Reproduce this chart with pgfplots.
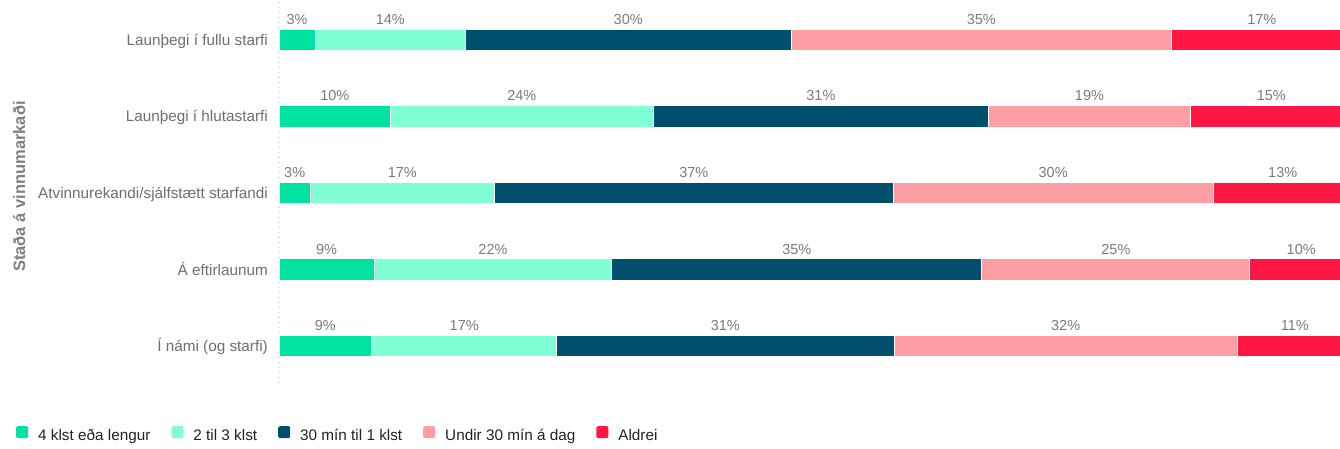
\documentclass[border=0pt]{standalone}
\usepackage{pgfplots}
\pgfplotsset{compat=1.18}
\usepackage{pgfplotstable}
\usepackage{fontspec}
\setmainfont{Liberation Sans}
\definecolor{cA}{HTML}{00E29F}
\definecolor{cB}{HTML}{80FFD4}
\definecolor{cC}{HTML}{004F6C}
\definecolor{cD}{HTML}{FF9EA5}
\definecolor{cE}{HTML}{FF1744}
\definecolor{tickgray}{HTML}{6E6E6E}
\definecolor{valgray}{HTML}{7A7A7A}
\definecolor{titlegray}{HTML}{7F7F7F}
\definecolor{legtext}{HTML}{222222}

\pgfplotstableread{
y a b c d e
0 3.38 13.97 30.37 35.40 16.88
1 10.40 24.45 31.26 18.78 15.11
2 2.92 17.14 37.17 29.78 12.99
3 8.88 22.11 34.49 24.97 9.55
4 8.64 17.23 31.42 31.98 10.73
}\datatable

\pgfplotstableread{
x y lab
1.69 0 3
10.365 0 14
32.535 0 30
65.42 0 35
91.56 0 17
5.20 1 10
22.625 1 24
50.48 1 31
75.50 1 19
92.445 1 15
1.46 2 3
11.49 2 17
38.645 2 37
72.12 2 30
93.505 2 13
4.44 3 9
19.935 3 22
48.235 3 35
77.965 3 25
95.225 3 10
4.32 4 9
17.255 4 17
41.58 4 31
73.28 4 32
94.635 4 11
}\labeltable

\begin{document}
\begin{tikzpicture}
\useasboundingbox (0,0) rectangle (1340pt,-448pt);
\begin{axis}[
  at={(279pt,-1.5pt)}, anchor=north west,
  scale only axis, width=1061pt, height=383pt,
  xbar stacked, bar width=21.5pt,
  xmin=0, xmax=98.84, ymin=-0.5, ymax=4.5, y dir=reverse,
  axis x line=none,
  axis y line*=left,
  y axis line style={draw=black!15, line width=1.5pt, dash pattern=on 1.5pt off 3.5pt},
  ytick={0,1,2,3,4},
  yticklabels={Launþegi í fullu starfi, Launþegi í hlutastarfi, Atvinnurekandi/sjálfstætt starfandi, Á eftirlaunum, Í námi (og starfi)},
  major tick length=0pt,
  yticklabel style={font=\fontsize{15.3}{18}\selectfont, text=tickgray, anchor=base east, inner sep=0pt, yshift=-5.5pt, xshift=-11pt},
  ylabel={Staða á vinnumarkaði},
  ylabel style={at={(axis description cs:-0.245,0.517)}, anchor=center, font=\bfseries\fontsize{16.5}{20}\selectfont, text=titlegray},
  legend columns=5,
  legend cell align=left,
  legend style={at={(axis description cs:-0.2479,-0.132)}, anchor=west, draw=none, fill=none, inner sep=0pt,
    font=\fontsize{15.3}{18}\selectfont, text=legtext,
    /tikz/every odd column/.append style={column sep=8pt},
    /tikz/every even column/.append style={column sep=19pt}},
  legend image code/.code={\fill[#1, draw=none, rounded corners=2pt] (0pt,-2.5pt) rectangle (12pt,9.5pt);},
  every axis plot/.append style={draw=white, line width=1pt},
]
\addplot[fill=cA] table[x=a,y=y]{\datatable};
\addplot[fill=cB] table[x=b,y=y]{\datatable};
\addplot[fill=cC] table[x=c,y=y]{\datatable};
\addplot[fill=cD] table[x=d,y=y]{\datatable};
\addplot[fill=cE] table[x=e,y=y]{\datatable};
\legend{4 klst eða lengur, 2 til 3 klst, 30 mín til 1 klst, Undir 30 mín á dag, Aldrei}
\end{axis}
\begin{axis}[
  at={(279pt,-1.5pt)}, anchor=north west,
  scale only axis, width=1061pt, height=383pt,
  xmin=0, xmax=98.84, ymin=-0.5, ymax=4.5, y dir=reverse,
  hide axis, clip=false,
]
\addplot[draw=none, mark=none, nodes near coords={\pgfplotspointmeta\%}, point meta=explicit symbolic,
  nodes near coords style={anchor=base, yshift=15.5pt, font=\fontsize{14.5}{17}\selectfont, text=valgray, inner sep=0pt}]
  table[x=x,y=y,meta=lab]{\labeltable};
\end{axis}
\end{tikzpicture}
\end{document}
